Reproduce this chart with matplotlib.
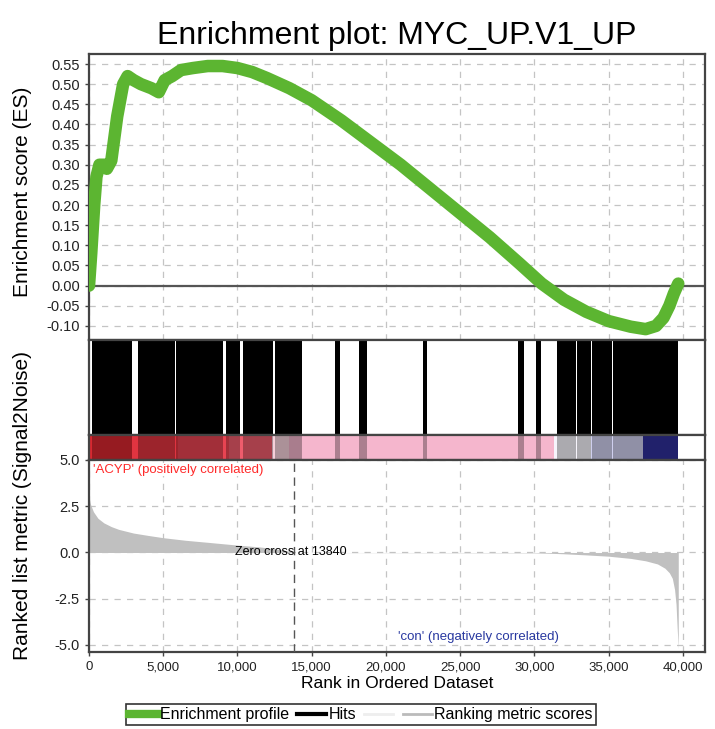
import numpy as np
import matplotlib
matplotlib.use('Agg')
import matplotlib.pyplot as plt
from matplotlib.lines import Line2D

plt.rcParams['font.family'] = ['Liberation Sans', 'DejaVu Sans']

X_MAX = 41500

# running enrichment score
es_rank = [0, 150, 350, 500, 700, 1100, 1200, 1500, 1900, 2300, 2600, 3000,
           3500, 4200, 4700, 5100, 5600, 6200, 7000, 8000, 9000, 10000,
           11000, 12000, 13500, 15000, 17000, 19000, 21000, 23000, 25000,
           27000, 29000, 30500, 32000, 33500, 35000, 36500, 37500, 38200,
           38700, 39100, 39400, 39700]
es_value = [0.0, 0.08, 0.20, 0.27, 0.30, 0.30, 0.29, 0.31, 0.42, 0.50, 0.52,
            0.51, 0.50, 0.49, 0.48, 0.51, 0.52, 0.535, 0.54, 0.545, 0.545,
            0.54, 0.53, 0.515, 0.49, 0.46, 0.41, 0.355, 0.30, 0.24, 0.18,
            0.12, 0.055, 0.005, -0.035, -0.065, -0.088, -0.102, -0.108,
            -0.100, -0.08, -0.05, -0.02, 0.005]

# gene-set hits, as contiguous runs of ranks
hit_blocks = [(180, 2870), (3300, 4080), (4140, 5780), (5840, 9020),
              (9220, 10160), (10370, 12400), (12530, 14330), (16560, 16900),
              (18180, 18720), (22490, 22760), (28890, 29290), (30100, 30440),
              (31500, 32830), (32900, 33850), (33920, 35250), (35320, 39660)]

# ranked list colour band
band_edges = [0, 2900, 6000, 9400, 12300, 13500, 14300, 31300, 33800, 37300, 39650]
band_colors = ['#d82830', '#e03440', '#e84452', '#ee5c6c', '#f6d0da',
               '#f2b4ca', '#f5b6cd', '#f6f4fc', '#cfcfee', '#30309a']

# ranking metric (signal to noise)
metric_rank = [0, 100, 300, 600, 1000, 1500, 2000, 3000, 4000, 5000, 6500,
               8000, 10000, 11500, 12500, 13300, 13840, 20000, 25000, 30000,
               31000, 32000, 33500, 35000, 36500, 37500, 38300, 38800, 39100,
               39300, 39450, 39550, 39620, 39700]
metric_value = [3.0, 2.6, 2.2, 1.85, 1.6, 1.4, 1.25, 1.05, 0.92, 0.8, 0.66,
                0.55, 0.4, 0.3, 0.2, 0.1, 0.0, -0.01, -0.015, -0.02, -0.04,
                -0.07, -0.13, -0.2, -0.32, -0.45, -0.62, -0.85, -1.1, -1.4,
                -2.0, -2.8, -4.0, -5.2]
zero_cross = 13840

x_ticks = [0, 5000, 10000, 15000, 20000, 25000, 30000, 35000, 40000]
x_tick_labels = ['0', '5,000', '10,000', '15,000', '20,000', '25,000',
                 '30,000', '35,000', '40,000']

GREEN = '#5cb531'
SPINE = '#444444'
GRID = dict(color='#c4c4c4', linestyle=(0, (5, 5)), linewidth=0.9)

fig = plt.figure(figsize=(7.15, 7.29), dpi=100)
left, width = 0.1245, 0.8615


def style_axes(ax):
    for sp in ax.spines.values():
        sp.set_color(SPINE)
        sp.set_linewidth(1.6)
    ax.tick_params(colors=SPINE, labelcolor='#222222', labelsize=9.5,
                   length=3, width=1)


# enrichment score panel
ax_es = fig.add_axes([left, 0.5336, width, 0.3924])
style_axes(ax_es)
ax_es.set_xlim(0, X_MAX)
ax_es.set_ylim(-0.135, 0.575)
es_ticks = np.round(np.arange(-0.10, 0.551, 0.05), 2)
ax_es.set_yticks(es_ticks)
ax_es.set_yticklabels([f'{v:.2f}' for v in es_ticks])
ax_es.tick_params(axis='y', labelsize=10.5)
ax_es.set_xticks(x_ticks)
ax_es.tick_params(axis='x', labelbottom=False, length=0)
ax_es.grid(True, **GRID)
ax_es.set_axisbelow(True)
ax_es.axhline(0, color='#555555', linewidth=1.6, zorder=2)
ax_es.plot(es_rank, es_value, color=GREEN, linewidth=9,
           solid_capstyle='round', solid_joinstyle='round', zorder=3)
ax_es.set_title('Enrichment plot: MYC_UP.V1_UP', fontsize=23, pad=7)
fig.text(0.031, 1 - 192 / 729, 'Enrichment score (ES)', rotation=90,
         fontsize=15, ha='center', va='center')

# hits panel
ax_hits = fig.add_axes([left, 0.4033, width, 0.1303])
style_axes(ax_hits)
ax_hits.set_xlim(0, X_MAX)
ax_hits.set_ylim(0, 1)
ax_hits.set_xticks([])
ax_hits.set_yticks([])
ax_hits.broken_barh([(s, e - s) for s, e in hit_blocks], (0, 1),
                    facecolors='black')

# colour band of the ranked list
ax_band = fig.add_axes([left, 0.369, width, 0.0343])
style_axes(ax_band)
ax_band.set_xlim(0, X_MAX)
ax_band.set_ylim(0, 1)
ax_band.set_xticks([])
ax_band.set_yticks([])
ax_band.broken_barh([(band_edges[i], band_edges[i + 1] - band_edges[i])
                     for i in range(len(band_colors))], (0, 1),
                    facecolors=band_colors)
ax_band.broken_barh([(s, e - s) for s, e in hit_blocks], (0, 1),
                    facecolors='black', alpha=0.3)

# ranked list metric panel
ax_m = fig.add_axes([left, 0.1056, width, 0.2634])
style_axes(ax_m)
ax_m.set_xlim(0, X_MAX)
ax_m.set_ylim(-5.38, 5.0)
ax_m.set_yticks([5.0, 2.5, 0.0, -2.5, -5.0])
ax_m.set_yticklabels(['5.0', '2.5', '0.0', '-2.5', '-5.0'])
ax_m.tick_params(axis='y', labelsize=10.5)
ax_m.set_xticks(x_ticks)
ax_m.set_xticklabels(x_tick_labels)
ax_m.grid(True, **GRID)
ax_m.set_axisbelow(True)
ax_m.fill_between(metric_rank, metric_value, 0, color='#c0c0c0',
                  linewidth=0, zorder=2)
ax_m.axvline(zero_cross, color='#555555', linestyle=(0, (6, 4)),
             linewidth=1.0, zorder=3)
ax_m.text(zero_cross - 4000, 0, f'Zero cross at {zero_cross}', fontsize=9,
          color='black', va='center', ha='left', zorder=4)
ax_m.text(250, 4.8, "'ACYP' (positively correlated)", fontsize=9.5,
          color='#ff2a2a', va='top', ha='left', zorder=4,
          bbox=dict(facecolor='white', edgecolor='none', pad=0.5))
ax_m.text(20800, -4.55, "'con' (negatively correlated)", fontsize=9.5,
          color='#2838a0', va='center', ha='left', zorder=4)
ax_m.set_xlabel('Rank in Ordered Dataset', fontsize=12.5, labelpad=2)
fig.text(0.031, 1 - 505 / 729, 'Ranked list metric (Signal2Noise)',
         rotation=90, fontsize=15, ha='center', va='center')

handles = [
    Line2D([0], [0], color=GREEN, linewidth=6),
    Line2D([0], [0], color='black', linewidth=3),
    Line2D([0], [0], color='#eeeeee', linewidth=2),
    Line2D([0], [0], color='#bbbbbb', linewidth=2),
]
labels = ['Enrichment profile', 'Hits', '', 'Ranking metric scores']
leg = fig.legend(handles, labels, loc='upper center', ncol=4,
                 bbox_to_anchor=(0.505, 1 - 704 / 729), fontsize=11.5,
                 frameon=True, fancybox=False, edgecolor='black',
                 handlelength=1.8, handletextpad=0.15, columnspacing=0.5,
                 borderpad=0.2, borderaxespad=0)
leg.get_frame().set_linewidth(1.2)

fig.savefig('out.png', dpi=100)
